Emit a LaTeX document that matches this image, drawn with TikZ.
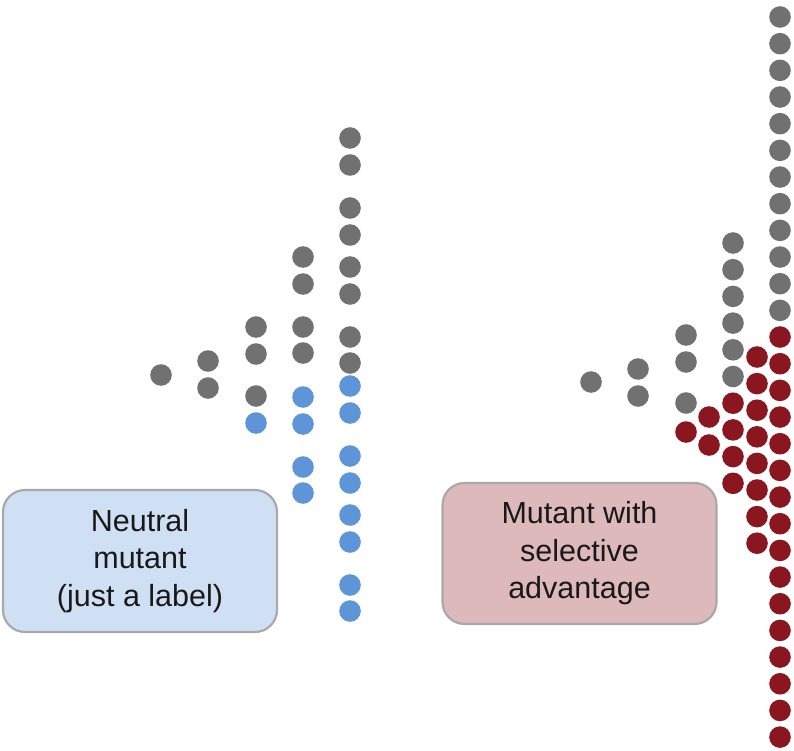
\documentclass[tikz,border=0pt]{standalone}
\usepackage{fontspec}
\setmainfont{Liberation Sans}
\definecolor{dotgray}{HTML}{717171}
\definecolor{dotblue}{HTML}{5D95D8}
\definecolor{dotred}{HTML}{8A1620}
\definecolor{boxblue}{HTML}{CFE0F4}
\definecolor{boxred}{HTML}{DDB9BB}
\definecolor{boxline}{HTML}{A9A9A9}
\tikzset{
  gdot/.style={fill=dotgray},
  bdot/.style={fill=dotblue},
  rdot/.style={fill=dotred},
  labelbox/.style={draw=boxline, line width=2.2pt, rounded corners=22pt,
    minimum width=274pt, align=center, inner sep=0pt,
    font=\fontsize{30.5}{37.5}\selectfont, text=black!90},
}
\begin{document}
\begin{tikzpicture}[x=1pt,y=-1pt]
\useasboundingbox (0,0) rectangle (794,751);
\def\r{10.8}
% ---- left: neutral mutant ----
\fill[gdot] (161,375) circle (\r);
\foreach \y in {361,388} \fill[gdot] (208,\y) circle (\r);
\foreach \y in {327,354,396} \fill[gdot] (256,\y) circle (\r);
\fill[bdot] (256,423) circle (\r);
\foreach \y in {257,284,327,353} \fill[gdot] (303,\y) circle (\r);
\foreach \y in {397,424,467,493} \fill[bdot] (303,\y) circle (\r);
\foreach \y in {138,165,208,235,267,294,337,363} \fill[gdot] (350,\y) circle (\r);
\foreach \y in {386,413,456,483,515,542,585,611} \fill[bdot] (350,\y) circle (\r);
% ---- right: mutant with selective advantage ----
\fill[gdot] (591,382) circle (\r);
\foreach \y in {369,396} \fill[gdot] (638,\y) circle (\r);
\foreach \y in {335,362,403} \fill[gdot] (686,\y) circle (\r);
\fill[rdot] (686,432) circle (\r);
\foreach \y in {417,445} \fill[rdot] (709,\y) circle (\r);
\foreach \i in {0,...,5} \fill[gdot] (733,243+26.7*\i) circle (\r);
\foreach \i in {6,...,9} \fill[rdot] (733,243+26.7*\i) circle (\r);
\foreach \i in {0,...,7} \fill[rdot] (757,357+26.6*\i) circle (\r);
\foreach \i in {0,...,11} \fill[gdot] (780,17+26.67*\i) circle (\r);
\foreach \i in {12,...,27} \fill[rdot] (780,17+26.67*\i) circle (\r);
% ---- label boxes ----
\node[labelbox, fill=boxblue, minimum height=142pt] (neutral) at (140,561)
  {Neutral\\mutant\\(just a label)};
\node[labelbox, fill=boxred, minimum height=141pt] (selective) at (579.5,553.5)
  {Mutant with\\selective\\advantage};
\end{tikzpicture}
\end{document}
